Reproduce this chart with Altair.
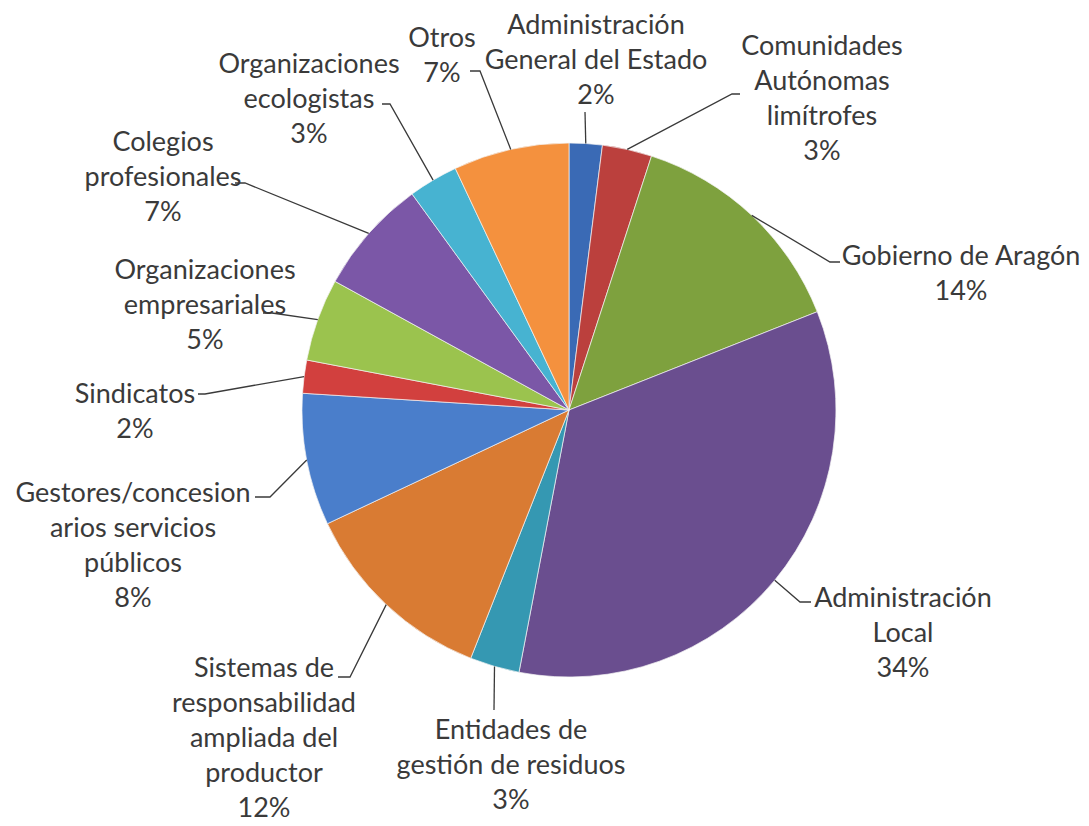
import altair as alt
import numpy as np
import pandas as pd

# ---------------- data ----------------
categories = [
    "Administración General del Estado",
    "Comunidades Autónomas limítrofes",
    "Gobierno de Aragón",
    "Administración Local",
    "Entidades de gestión de residuos",
    "Sistemas de responsabilidad ampliada del productor",
    "Gestores/concesionarios servicios públicos",
    "Sindicatos",
    "Organizaciones empresariales",
    "Colegios profesionales",
    "Organizaciones ecologistas",
    "Otros",
]
shares = [2, 3, 14, 34, 3, 12, 8, 2, 5, 7, 3, 7]
label_lines = [
    ["Administración", "General del Estado"],
    ["Comunidades", "Autónomas", "limítrofes"],
    ["Gobierno de Aragón"],
    ["Administración", "Local"],
    ["Entidades de", "gestión de residuos"],
    ["Sistemas de", "responsabilidad", "ampliada del", "productor"],
    ["Gestores/concesion", "arios servicios", "públicos"],
    ["Sindicatos"],
    ["Organizaciones", "empresariales"],
    ["Colegios", "profesionales"],
    ["Organizaciones", "ecologistas"],
    ["Otros"],
]
colors = [
    "#3a6ab5", "#bb403d", "#7ea13e", "#6a4e8f", "#3598b2", "#d97b33",
    "#4a7ecb", "#d2403e", "#9bc34e", "#7b57a7", "#47b3d1", "#f4913e",
]

# ---------------- layout (pixels, relative to pie centre) ----------------
W, H = 1073, 816
CX, CY = 561, 402
R = 267
LH = 35
label_pos = [(27, -349), (253, -311), (392, -136), (334, 224), (-58, 356), (-305, 329),
             (-436, 136), (-434, 2), (-364, -104), (-406, -232), (-260, -310), (-127, -354)]
elbow_pos = [(16, -298), (163, -316), (261, -148), (231, 192), (-75, 300), (-219, 267),
             (-299, 87), (-364, -16), (-297, -97), (-324, -227), (-179, -306), (-89, -339)]
tails = [0, 8, 10, 11, 0, -12, -15, -7, -9, -10, -8, -10]

# ---------------- frames ----------------
pie_df = pd.DataFrame({"category": categories, "share": shares,
                       "order": list(range(len(categories))), "color": colors})

texts, ly_first = [], []
for lines, s, (lx, ly) in zip(label_lines, shares, label_pos):
    all_lines = lines + [f"{s}%"]
    texts.append("\n".join(all_lines))
    ly_first.append(ly - (len(all_lines) - 1) * LH / 2)
lab_df = pd.DataFrame({"category": categories, "text": texts,
                       "lx": [p[0] for p in label_pos], "ly": ly_first})

total = float(sum(shares))
cum = np.cumsum([0] + shares)
rows = []
for i, cat in enumerate(categories):
    mid = (cum[i] + cum[i + 1]) / 2 / total * 2 * np.pi
    p0 = (R * np.sin(mid), -R * np.cos(mid))
    ex, ey = elbow_pos[i]
    pts = [p0, (ex, ey)]
    if tails[i] != 0:
        pts.append((ex + tails[i], ey))
    for k, (px, py) in enumerate(pts):
        rows.append({"category": cat, "k": k, "px": px, "py": py})
line_df = pd.DataFrame(rows)

xs = alt.Scale(domain=[-CX, W - CX], range=[0, W], nice=False, zero=False)
ys = alt.Scale(domain=[-CY, H - CY], range=[0, H], nice=False, zero=False)

pie = alt.Chart(pie_df).mark_arc(outerRadius=R, stroke="#f4f4f4", strokeWidth=0.7).encode(
    theta=alt.Theta("share:Q", stack=True),
    order=alt.Order("order:Q"),
    color=alt.Color("color:N", scale=None),
    x=alt.value(CX),
    y=alt.value(CY),
)

leaders = alt.Chart(line_df).mark_line(color="#3a3a3a", strokeWidth=1.3).encode(
    x=alt.X("px:Q", scale=xs, axis=None),
    y=alt.Y("py:Q", scale=ys, axis=None),
    detail="category:N",
    order="k:Q",
)

labels = alt.Chart(lab_df).mark_text(
    font="Lato", fontSize=27, lineHeight=LH, align="center", baseline="middle",
    color="#3a3a3a", lineBreak="\n",
).encode(
    x=alt.X("lx:Q", scale=xs, axis=None),
    y=alt.Y("ly:Q", scale=ys, axis=None),
    text="text:N",
)

chart = alt.layer(pie, leaders, labels).resolve_scale(x="shared", y="shared").properties(
    width=W, height=H, padding=0, background="white",
    autosize=alt.AutoSizeParams(type="none"),
).configure_view(stroke=None)

chart.save("out.html", embed_options={"renderer": "svg", "actions": False})
